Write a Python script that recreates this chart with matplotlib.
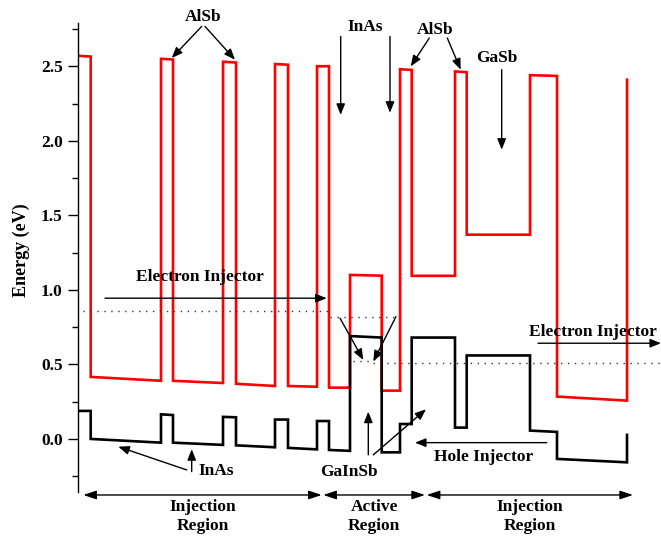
import numpy as np
import matplotlib
matplotlib.use('Agg')
import matplotlib.pyplot as plt
from matplotlib.ticker import MultipleLocator, FormatStrFormatter

# layer boundaries (position, nm) and band edges (start / end of each layer, eV)
bounds = [0, 1.27, 8.3, 9.5, 14.5, 15.8, 19.7, 21.0, 23.9, 25.1, 27.2,
          30.37, 32.2, 33.37, 37.7, 38.87, 45.2, 47.9, 54.9]
cb_start = [2.57, 0.416, 2.55, 0.39, 2.53, 0.37, 2.515, 0.355, 2.50, 0.344,
            1.10, 0.324, 2.48, 1.094, 2.465, 1.37, 2.44, 0.284]
cb_end = [2.565, 0.39, 2.545, 0.375, 2.525, 0.355, 2.51, 0.35, 2.50, 0.344,
          1.095, 0.324, 2.475, 1.094, 2.46, 1.37, 2.435, 0.257]
vb_start = [0.188, 0.0, 0.165, -0.025, 0.148, -0.043, 0.13, -0.06, 0.12, -0.074,
            0.69, -0.09, 0.10, 0.68, 0.076, 0.56, 0.056, -0.134]
vb_end = [0.188, -0.025, 0.16, -0.04, 0.145, -0.056, 0.13, -0.07, 0.12, -0.08,
          0.68, -0.09, 0.10, 0.68, 0.076, 0.56, 0.047, -0.157]
cb_tail = 2.41
vb_tail = 0.027

# quasi-Fermi levels (dotted): (x0, x1, E)
levels = [(0.47, 25.2, 0.855), (25.2, 32.0, 0.82),
          (27.5, 29.5, 0.52), (29.5, 58.3, 0.507)]


def band_path(start, end, tail):
    xs, ys = [], []
    for i in range(len(start)):
        xs += [bounds[i], bounds[i + 1]]
        ys += [start[i], end[i]]
    xs.append(bounds[-1])
    ys.append(tail)
    return xs, ys


plt.rcParams['font.family'] = 'Liberation Serif'
plt.rcParams['font.weight'] = 'bold'
plt.rcParams['font.size'] = 12.5

fig = plt.figure(figsize=(6.61, 5.37), dpi=100)
ax = fig.add_axes([78 / 661, 45 / 537, 583 / 661, 469 / 537])

x_cb, y_cb = band_path(cb_start, cb_end, cb_tail)
x_vb, y_vb = band_path(vb_start, vb_end, vb_tail)
ax.plot(x_cb, y_cb, color='#ff0000', lw=1.9, solid_joinstyle='miter')
ax.plot(x_vb, y_vb, color='black', lw=1.9, solid_joinstyle='miter')

for x0, x1, e in levels:
    ax.plot([x0, x1], [e, e], color='#333333', lw=1.0, linestyle=(0, (1, 4)),
            clip_on=False)

ax.set_xlim(0, 58.3)
ax.set_ylim(-0.356, 2.79)
for s in ['top', 'right', 'bottom']:
    ax.spines[s].set_visible(False)
ax.spines['left'].set_linewidth(1.0)
ax.set_xticks([])
ax.yaxis.set_major_locator(MultipleLocator(0.5))
ax.yaxis.set_minor_locator(MultipleLocator(0.25))
ax.yaxis.set_major_formatter(FormatStrFormatter('%.1f'))
ax.tick_params(axis='y', which='major', length=7, width=1, direction='out', pad=4)
ax.tick_params(axis='y', which='minor', length=4, width=1, direction='out')
ax.set_ylabel('Energy (eV)', fontsize=13, fontweight='bold')
ax.yaxis.set_label_coords(-0.082, 0.516)

arrow = dict(arrowstyle='-|>,head_length=0.5,head_width=0.2', color='black',
             lw=1.0, mutation_scale=13, shrinkA=0, shrinkB=0)
darrow = dict(arrowstyle='<|-|>,head_length=0.6,head_width=0.2', color='black',
              lw=1.0, mutation_scale=13, shrinkA=0, shrinkB=0)


def arr(x0, y0, x1, y1, props=arrow):
    ax.annotate('', xy=(x1, y1), xytext=(x0, y0), arrowprops=props,
                annotation_clip=False)


def label(x, y, s):
    ax.text(x, y, s, ha='center', va='center', fontweight='bold',
            clip_on=False)


label(12.5, 2.832, 'AlSb')
arr(12.37, 2.767, 9.37, 2.555)
arr(12.7, 2.767, 15.7, 2.544)

label(28.7, 2.765, 'InAs')
arr(26.27, 2.70, 26.27, 2.174)
arr(31.2, 2.70, 31.2, 2.188)

label(35.7, 2.745, 'AlSb')
arr(35.13, 2.689, 33.27, 2.499)
arr(36.93, 2.689, 38.27, 2.477)

label(41.87, 2.555, 'GaSb')
arr(42.37, 2.477, 42.37, 1.94)

label(12.2, 1.085, 'Electron Injector')
arr(2.7, 0.944, 24.87, 0.944)

label(51.5, 0.72, 'Electron Injector')
arr(46.0, 0.642, 58.3, 0.642)

label(13.87, -0.213, 'InAs')
arr(10.87, -0.208, 4.03, -0.052)
arr(11.37, -0.219, 11.37, -0.069)

label(27.1, -0.219, 'GaInSb')
arr(29.03, -0.107, 29.03, 0.183)
arr(29.53, -0.107, 34.8, 0.199)

arr(26.2, 0.81, 28.53, 0.53)
arr(31.8, 0.821, 29.53, 0.519)

label(40.53, -0.123, 'Hole Injector')
arr(46.87, -0.025, 33.7, -0.025)

# region markers below the axis
regions = [(0.53, 24.37, 'Injection\nRegion'),
           (24.53, 34.7, 'Active\nRegion'),
           (34.87, 55.5, 'Injection\nRegion')]
for x0, x1, name in regions:
    arr(x0, -0.376, x1, -0.376, darrow)
    ax.text((x0 + x1) / 2, -0.52, name, ha='center', va='center',
            fontweight='bold', linespacing=1.2, clip_on=False)

fig.savefig('out.png', dpi=100)
